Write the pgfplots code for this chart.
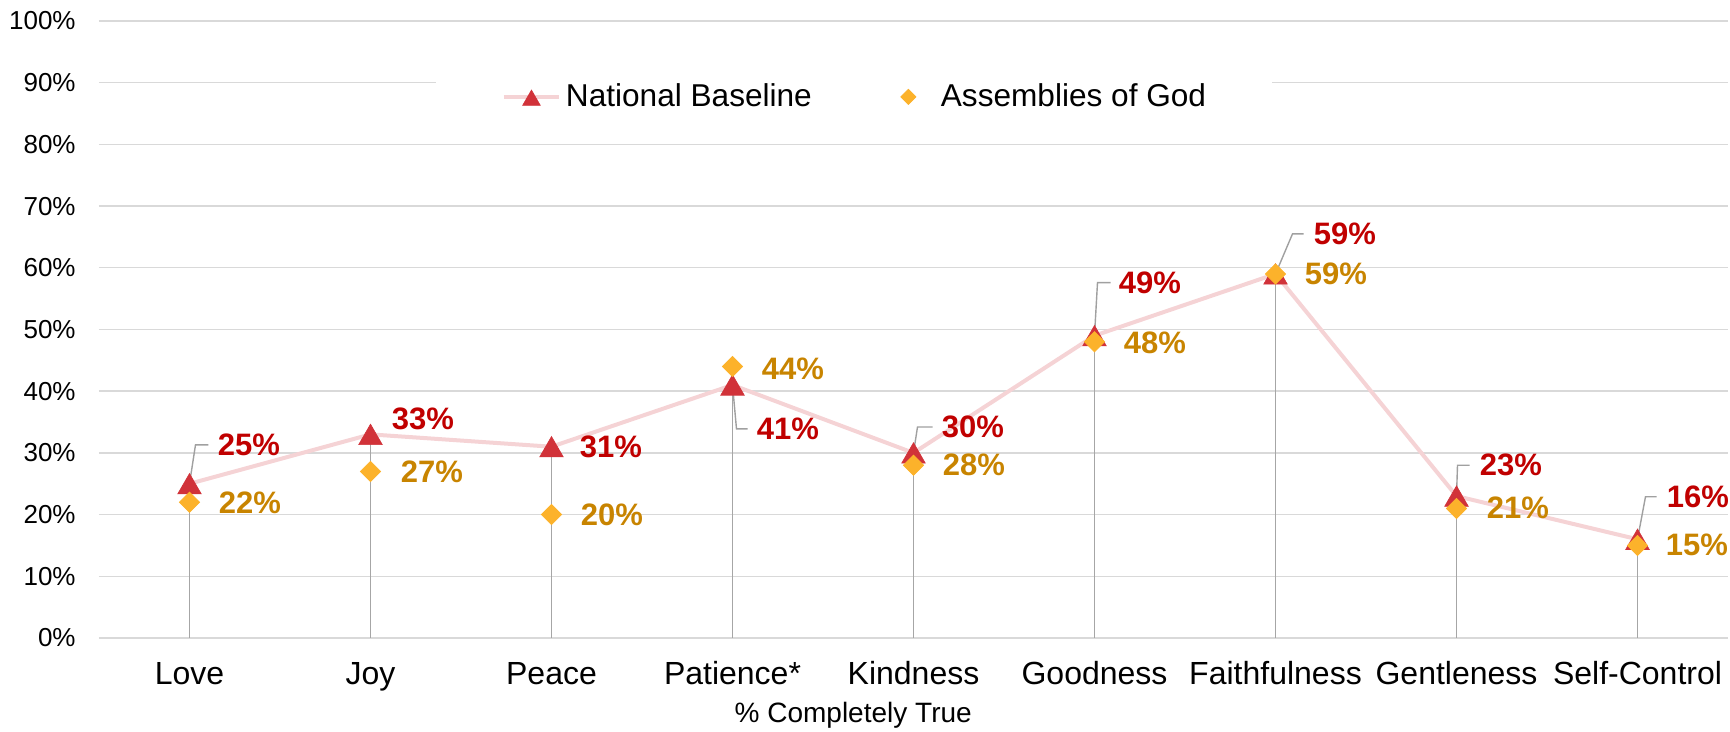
\documentclass[border=0pt]{standalone}
\usepackage{fontspec}
\setmainfont{Liberation Sans}
\usepackage{pgfplots}
\pgfplotsset{compat=1.18}
\definecolor{pinkline}{RGB}{245,211,213}
\definecolor{tri}{RGB}{209,50,57}
\definecolor{dia}{RGB}{252,178,43}
\definecolor{redtxt}{RGB}{192,0,0}
\definecolor{orgtxt}{RGB}{200,132,0}
\definecolor{gridc}{RGB}{217,217,217}
\definecolor{dropc}{RGB}{166,166,166}
\definecolor{leadc}{RGB}{160,160,160}
\pgfplotsset{
  trilegend/.style={legend image code/.code={\path[draw=none,fill=none] (0pt,0pt) (27.5pt,0pt);\draw[##1, mark size=5.1pt, mark repeat=2, mark phase=2] plot coordinates {(0pt,0pt) (13.75pt,0pt) (27.5pt,0pt)};}},
  dialegend/.style={legend image code/.code={\path[draw=none,fill=none] (0pt,0pt) (27.5pt,0pt);\draw[##1, mark size=2.65pt] plot coordinates {(13.75pt,0pt)};}},
}
\newcommand{\lab}[5]{\node[anchor=west, inner sep=0pt, text=#5, font=\fontsize{15.5}{18}\selectfont\bfseries] at (axis cs:{#1+#3/181},#2) {#4};}
\newcommand{\lead}[5]{\draw[leadc, line width=0.7pt] (axis cs:#1,#2) -- (axis cs:{#1+#4/181},#3) -- (axis cs:{#1+#5/181},#3);}
\begin{document}
\begin{tikzpicture}
\begin{axis}[
  name=ax,
  at={(0,0)}, anchor=south west,
  scale only axis,
  width=814.5pt, height=308.5pt,
  xmin=-0.5, xmax=8.5, ymin=0, ymax=100,
  clip=false,
  axis line style={draw=none},
  major tick length=0pt,
  ymajorgrids,
  grid style={gridc, line width=0.7pt},
  ytick={0,10,20,30,40,50,60,70,80,90,100},
  yticklabels={0\%,10\%,20\%,30\%,40\%,50\%,60\%,70\%,80\%,90\%,100\%},
  yticklabel style={anchor=east, inner sep=0pt, xshift=-11.5pt, font=\fontsize{13}{15}\selectfont},
  xtick={0,1,2,3,4,5,6,7,8},
  xticklabels={Love,Joy,Peace,Patience*,Kindness,Goodness,Faithfulness,Gentleness,Self-Control},
  xticklabel style={anchor=base, inner sep=0pt, yshift=-23.5pt, font=\fontsize{16}{19}\selectfont},
  xlabel={\% Completely True},
  xlabel style={at={(axis description cs:0.463,0)}, anchor=base, yshift=-42.5pt, inner sep=0pt, font=\fontsize{14}{17}\selectfont},
  legend columns=2,
  legend style={at={(axis description cs:0.4635,0.877)}, anchor=center, draw=none, fill=white,
    inner xsep=33pt, inner ysep=6pt,
    font=\fontsize{15.8}{19}\selectfont,
    nodes={inner sep=0pt},
    /tikz/every odd column/.append style={column sep=2.5pt},
    /tikz/every even column/.append style={column sep=34.5pt}},
]
% drop lines
\addplot[ycomb, dropc, line width=0.85pt, no markers, forget plot] coordinates {
  (0,25) (1,33) (2,31) (3,41) (4,30) (5,49) (6,59) (7,23) (8,16)};
% leader lines
\lead{0}{25}{31.3}{6}{19}
\lead{3}{41}{33.9}{4}{15}
\lead{4}{30}{34.2}{4}{19}
\lead{5}{49}{57.6}{3}{16}
\lead{6}{59}{65.5}{17}{28}
\lead{7}{23}{28.0}{1}{13}
\lead{8}{16}{22.9}{8}{19}
% National Baseline
\addplot[pinkline, line width=2pt, mark=triangle*, mark size=6.8pt,
  mark options={fill=tri, draw=tri, line width=0.3pt, yshift=-1.7pt}, trilegend]
  coordinates {(0,25) (1,33) (2,31) (3,41) (4,30) (5,49) (6,59) (7,23) (8,16)};
\addlegendentry{National Baseline}
% Assemblies of God
\addplot[only marks, mark=square*, mark size=3.55pt,
  mark options={fill=dia, draw=dia, rotate=45}, dialegend]
  coordinates {(0,22) (1,27) (2,20) (3,44) (4,28) (5,48) (6,59) (7,21) (8,15)};
\addlegendentry{Assemblies of God}
% labels national
\lab{0}{31.3}{28}{25\%}{redtxt}
\lab{1}{35.5}{21}{33\%}{redtxt}
\lab{2}{31.0}{28}{31\%}{redtxt}
\lab{3}{33.9}{24}{41\%}{redtxt}
\lab{4}{34.2}{28}{30\%}{redtxt}
\lab{5}{57.6}{24}{49\%}{redtxt}
\lab{6}{65.5}{38}{59\%}{redtxt}
\lab{7}{28.0}{23}{23\%}{redtxt}
\lab{8}{22.9}{29}{16\%}{redtxt}
% labels AoG
\lab{0}{21.9}{29}{22\%}{orgtxt}
\lab{1}{26.9}{30}{27\%}{orgtxt}
\lab{2}{19.9}{29}{20\%}{orgtxt}
\lab{3}{43.7}{29}{44\%}{orgtxt}
\lab{4}{28.0}{29}{28\%}{orgtxt}
\lab{5}{47.9}{29}{48\%}{orgtxt}
\lab{6}{59.0}{29}{59\%}{orgtxt}
\lab{7}{21.1}{30}{21\%}{orgtxt}
\lab{8}{15.1}{28}{15\%}{orgtxt}
\end{axis}
\pgfresetboundingbox
\path ([shift={(-49.5pt,-47pt)}]ax.south west) rectangle ([shift={(815.5pt,319pt)}]ax.south west);
\end{tikzpicture}
\end{document}
